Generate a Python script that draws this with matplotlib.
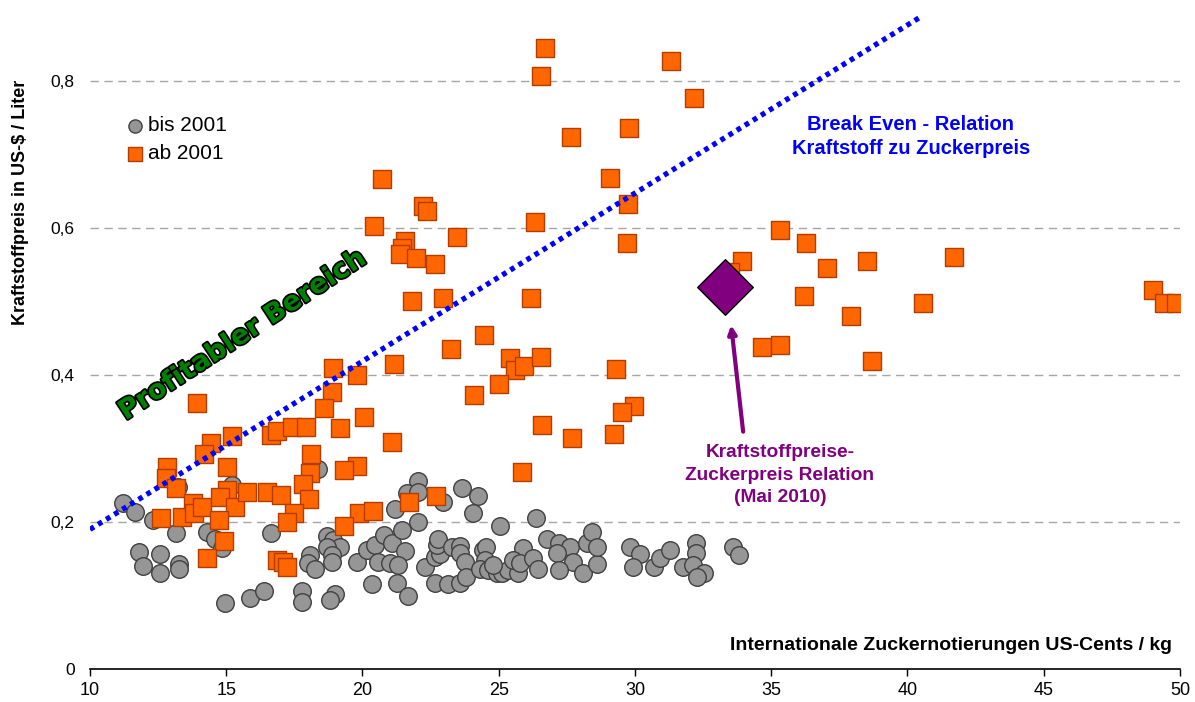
import numpy as np
import matplotlib
matplotlib.use('Agg')
import matplotlib.pyplot as plt
import matplotlib.patheffects as pe

plt.rcParams['font.family'] = ['Liberation Sans', 'DejaVu Sans']

# --- Daten: bis 2001 (graue Kreise) ---
bis_x = [11.21, 11.65, 12.31, 13.16, 13.23, 15.21, 14.29, 14.59, 14.84, 11.8,
         11.94, 12.57, 12.57, 13.27, 13.27, 16.64, 14.95, 15.87, 16.39, 17.78,
         17.78, 18.99, 18.81, 18.37, 18.7, 18.92, 19.17, 18.7, 18.88, 18.88,
         18.07, 18.0, 18.26, 19.8, 20.17, 20.46, 20.79, 21.08, 21.56, 20.57,
         21.0, 21.3, 20.35, 21.27, 21.67, 21.19, 22.04, 21.63, 22.04, 22.04,
         21.45, 22.29, 22.95, 23.65, 24.24, 24.06, 25.05, 26.37, 22.66, 23.14,
         23.58, 22.66, 22.84, 22.73, 22.77, 23.28, 23.58, 23.58, 23.76, 23.8,
         24.42, 24.53, 24.5, 24.31, 24.61, 24.94, 25.12, 25.34, 24.79, 25.71,
         25.89, 25.52, 25.78, 26.26, 26.44, 26.77, 27.21, 27.61, 27.14, 27.72,
         27.21, 28.09, 28.24, 28.42, 28.61, 28.61, 29.82, 30.18, 29.93, 30.7,
         30.92, 31.28, 32.24, 32.24, 31.76, 32.13, 32.53, 32.28, 33.6, 33.82]
bis_y = [0.226, 0.214, 0.203, 0.185, 0.248, 0.250, 0.186, 0.177, 0.165, 0.159,
         0.140, 0.156, 0.131, 0.143, 0.136, 0.185, 0.090, 0.097, 0.106, 0.106,
         0.091, 0.102, 0.094, 0.272, 0.181, 0.176, 0.166, 0.166, 0.155, 0.146,
         0.155, 0.144, 0.136, 0.146, 0.162, 0.169, 0.182, 0.171, 0.161, 0.146,
         0.144, 0.141, 0.116, 0.117, 0.099, 0.218, 0.256, 0.239, 0.241, 0.200,
         0.189, 0.139, 0.227, 0.246, 0.235, 0.212, 0.195, 0.206, 0.117, 0.116,
         0.117, 0.152, 0.156, 0.169, 0.177, 0.166, 0.167, 0.158, 0.146, 0.125,
         0.162, 0.166, 0.148, 0.136, 0.135, 0.131, 0.131, 0.135, 0.141, 0.131,
         0.165, 0.148, 0.144, 0.151, 0.136, 0.177, 0.171, 0.166, 0.158, 0.146,
         0.135, 0.131, 0.171, 0.186, 0.143, 0.166, 0.166, 0.156, 0.139, 0.139,
         0.151, 0.162, 0.171, 0.158, 0.139, 0.141, 0.131, 0.125, 0.166, 0.155]

# --- Daten: ab 2001 (orange Quadrate) ---
ab_x = [26.7, 26.55, 31.32, 32.17, 27.65, 29.78, 20.72, 29.08, 20.42, 22.22,
        22.37, 21.56, 21.45, 21.38, 21.96, 22.66, 23.47, 26.33, 29.74, 29.70,
        21.82, 22.95, 26.18, 21.16, 23.25, 24.46, 25.41, 25.6, 25.93, 26.55,
        25.0, 24.09, 29.3, 26.59, 27.69, 29.96, 29.52, 29.23, 25.85, 22.70,
        21.71, 13.93, 18.88, 18.59, 18.92, 19.8, 20.06, 19.17, 21.08, 14.44,
        14.18, 15.21, 16.64, 16.86, 17.41, 17.93, 18.11, 18.07, 15.03, 12.83,
        12.79, 13.16, 17.82, 19.8, 19.32, 13.78, 13.38, 12.6, 13.82, 14.1,
        15.03, 14.77, 15.32, 14.73, 15.76, 16.5, 17.0, 18.04, 17.49, 17.23,
        19.87, 20.38, 19.32, 14.92, 14.29, 16.86, 17.08, 17.23,
        33.93, 33.47, 35.32, 36.28, 37.05, 38.51, 41.71, 36.2, 40.57, 37.94,
        49.0, 49.41, 49.85, 34.66, 35.32, 38.7]
ab_y = [0.845, 0.807, 0.827, 0.777, 0.724, 0.736, 0.667, 0.668, 0.603, 0.630,
        0.623, 0.582, 0.573, 0.565, 0.559, 0.551, 0.588, 0.608, 0.633, 0.580,
        0.501, 0.505, 0.505, 0.415, 0.435, 0.454, 0.423, 0.407, 0.412, 0.424,
        0.388, 0.373, 0.408, 0.332, 0.314, 0.358, 0.350, 0.320, 0.268, 0.235,
        0.227, 0.362, 0.377, 0.355, 0.410, 0.400, 0.343, 0.328, 0.309, 0.307,
        0.293, 0.317, 0.318, 0.324, 0.329, 0.329, 0.293, 0.267, 0.275, 0.275,
        0.260, 0.246, 0.252, 0.276, 0.271, 0.226, 0.207, 0.205, 0.212, 0.220,
        0.244, 0.234, 0.220, 0.203, 0.241, 0.241, 0.237, 0.231, 0.212, 0.200,
        0.212, 0.215, 0.195, 0.174, 0.151, 0.148, 0.146, 0.139,
        0.555, 0.540, 0.597, 0.580, 0.546, 0.555, 0.561, 0.508, 0.498, 0.480,
        0.516, 0.498, 0.498, 0.438, 0.441, 0.419]

# Mai 2010
mai_x = [33.3]
mai_y = [0.52]

# Break-Even-Linie
be_x = [10.0, 40.46]
be_y = [0.19, 0.887]

x_ticks = [10, 15, 20, 25, 30, 35, 40, 45, 50]
y_ticks = [0, 0.2, 0.4, 0.6, 0.8]
y_labels = ['0', '0,2', '0,4', '0,6', '0,8']

fig = plt.figure(figsize=(11.95, 7.02), dpi=100)
ax = fig.add_axes([0.0753, 0.047, 0.9121, 0.942])

ax.scatter(bis_x, bis_y, s=160, marker='o', c='#969696', edgecolors='#404040',
           linewidths=1.0, zorder=3, label='bis 2001')
ax.scatter(ab_x, ab_y, s=170, marker='s', c='#FF6600', edgecolors='#B33C00',
           linewidths=1.0, zorder=4, label='ab 2001')
ax.scatter(mai_x, mai_y, s=800, marker='D', c='#800080', edgecolors='black',
           linewidths=1.0, zorder=6)

ax.plot(be_x, be_y, color='#0000FF', lw=3.8, linestyle=(0, (0.9, 0.9)),
        dash_capstyle='butt', zorder=5)

ax.set_xlim(10, 50)
ax.set_ylim(0, 0.9)
ax.set_xticks(x_ticks)
ax.set_xticklabels([str(t) for t in x_ticks], fontsize=13)
ax.set_yticks(y_ticks)
ax.set_yticklabels(y_labels, fontsize=12.5)
ax.tick_params(axis='y', length=0, pad=11)
ax.tick_params(axis='x', length=5, width=1, direction='out', pad=4)

for s in ['top', 'right', 'left']:
    ax.spines[s].set_visible(False)
ax.spines['bottom'].set_linewidth(1.2)

for yv in y_ticks[1:]:
    ax.axhline(yv, color='#A6A6A6', lw=1.0, linestyle=(0, (6, 4)), zorder=1)

leg = ax.legend(loc='upper left', bbox_to_anchor=(0.025, 0.852), frameon=False,
                fontsize=15, handlelength=0.7, handletextpad=0.3,
                labelspacing=0.45, borderpad=0, markerscale=0.75)

ax.text(40.13, 0.725, 'Break Even - Relation\nKraftstoff zu Zuckerpreis',
        color='#0000FF', fontsize=14.5, fontweight='bold', ha='center',
        va='center', linespacing=1.3)

ax.text(35.32, 0.264, 'Kraftstoffpreise-\nZuckerpreis Relation\n(Mai 2010)',
        color='#800080', fontsize=13.8, fontweight='bold', ha='center',
        va='center', linespacing=1.4)
ax.annotate('', xy=(33.53, 0.468), xytext=(33.97, 0.323),
            arrowprops=dict(arrowstyle='-|>', color='#800080', lw=3,
                            mutation_scale=12, shrinkA=0, shrinkB=0))

ax.text(15.61, 0.454, 'Profitabler Bereich', color='#008000', fontsize=19.5,
        fontweight='bold', family='DejaVu Sans', rotation=33.2,
        ha='center', va='center', rotation_mode='anchor',
        path_effects=[pe.withStroke(linewidth=2.5, foreground='black')])

fig.text(21 / 1195, 1 - 202 / 702, 'Kraftstoffpreis in US-$ / Liter',
         rotation=90, fontsize=13, fontweight='bold', ha='center', va='center')
fig.text(1172 / 1195, 1 - 646 / 702,
         'Internationale Zuckernotierungen US-Cents / kg', fontsize=14,
         fontweight='bold', ha='right', va='center')

fig.savefig('out.png', dpi=100)
